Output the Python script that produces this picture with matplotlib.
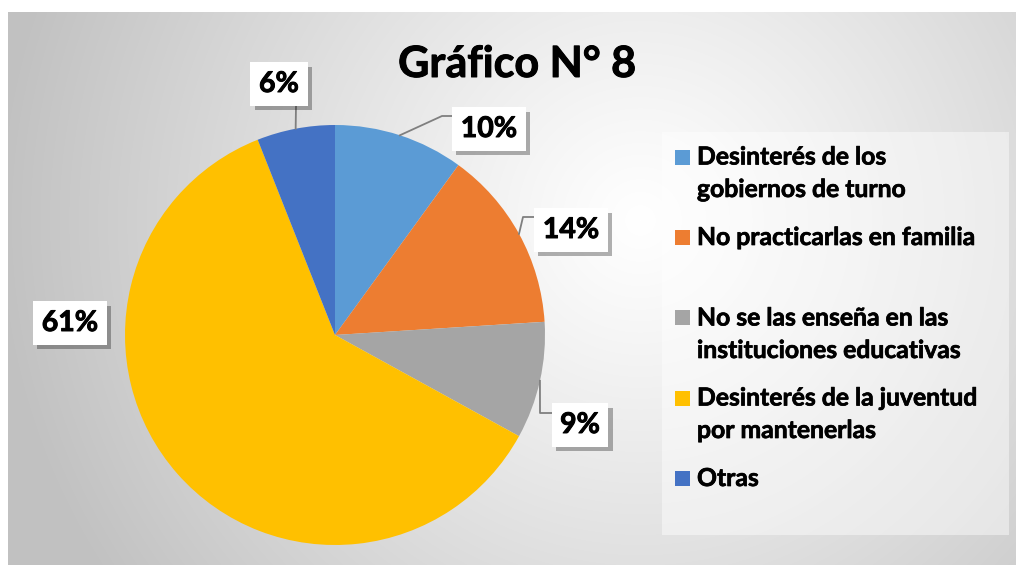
import numpy as np
import matplotlib
matplotlib.use('Agg')
import matplotlib.pyplot as plt
import matplotlib.patheffects as pe
from matplotlib.patches import Rectangle

plt.rcParams['font.family'] = ['Lato', 'DejaVu Sans']

# data
title = 'Gráfico N° 8'
labels = ['Desinterés de los\ngobiernos de turno',
          'No practicarlas en familia',
          'No se las enseña en las\ninstituciones educativas',
          'Desinterés de la juventud\npor mantenerlas',
          'Otras']
values = [10, 14, 9, 61, 6]
colors = ['#5B9BD5', '#ED7D31', '#A5A5A5', '#FFC000', '#4472C4']

# layout (pixels)
W, H = 1016, 565
cx, cy, R = 335, 335, 210
box_pos = [(489, 129), (571, 230), (580, 425), (70, 323), (279, 84)]
elbows = [[(442, 116), (453, 116)], [(523, 217), (535, 217)],
          [(540, 413), (553, 413)], None, [(296, 106)]]
mark_base = [165, 245, 325, 406, 486]   # baseline of first line
text_base = [197, 245, 358, 438, 486]   # baseline of last line

fig = plt.figure(figsize=(W / 100, H / 100), dpi=100)
fig.patch.set_facecolor('white')

# background with radial gradient
bg = fig.add_axes([0, 0, 1, 1], zorder=0)
xs = np.arange(8, W)
ys = np.arange(12, H)
xx, yy = np.meshgrid(xs, ys)
d = np.clip(np.hypot(xx - 640, yy - 220) / 640, 0, 1)
g = 1.0 - 0.24 * d ** 1.1
bg.imshow(np.dstack([g, g, g]), extent=[8, W, H, 12], aspect='auto', interpolation='bilinear')
# legend panel
bg.add_patch(Rectangle((662, 132), 347, 403, fc='white', ec='none', alpha=0.45))
bg.set_xlim(0, W)
bg.set_ylim(H, 0)
bg.axis('off')

# pie
pa = fig.add_axes([(cx - R) / W, (H - cy - R) / H, 2 * R / W, 2 * R / H], zorder=1)
pa.pie(values, colors=colors, startangle=90, counterclock=False, radius=1,
       wedgeprops=dict(linewidth=0))
pa.set_xlim(-1, 1)
pa.set_ylim(-1, 1)
pa.axis('off')

# overlay for labels, leaders, legend text
ov = fig.add_axes([0, 0, 1, 1], zorder=2)
ov.patch.set_alpha(0)
ov.set_xlim(0, W)
ov.set_ylim(H, 0)
ov.axis('off')

thick = [pe.withStroke(linewidth=0.7, foreground='black')]

ov.text(517, 64, title, ha='center', va='center', fontsize=31, fontweight='bold',
        color='black', path_effects=thick)

total = float(sum(values))
cum = 0.0
for i, v in enumerate(values):
    mid = (cum + v / 2) / total * 2 * np.pi
    cum += v
    sx = cx + R * np.sin(mid)
    sy = cy - R * np.cos(mid)
    if elbows[i] is not None:
        pts = [(sx, sy)] + elbows[i]
        ov.plot([p[0] for p in pts], [p[1] for p in pts], color='#7f7f7f', lw=1.3, zorder=3)
    bx, by = box_pos[i]
    t = ov.text(bx, by, '%d%%' % v, ha='center', va='center', fontsize=20.5, fontweight='bold',
                color='black', zorder=5, path_effects=thick,
                bbox=dict(boxstyle='square,pad=0.3', fc='white', ec='none'))
    t.get_bbox_patch().set_path_effects([
        pe.SimplePatchShadow(offset=(3, -3), shadow_rgbFace='black', alpha=0.3), pe.Normal()])

# legend
for i, lab in enumerate(labels):
    ov.add_patch(Rectangle((675, mark_base[i] - 15), 15, 15, fc=colors[i], ec='none', zorder=4))
    ov.text(697, text_base[i], lab, ha='left', va='baseline', fontsize=17.8, fontweight='bold',
            color='black', linespacing=1.5, zorder=4,
            path_effects=[pe.withStroke(linewidth=0.5, foreground='black')])

fig.savefig('out.png', dpi=100)
